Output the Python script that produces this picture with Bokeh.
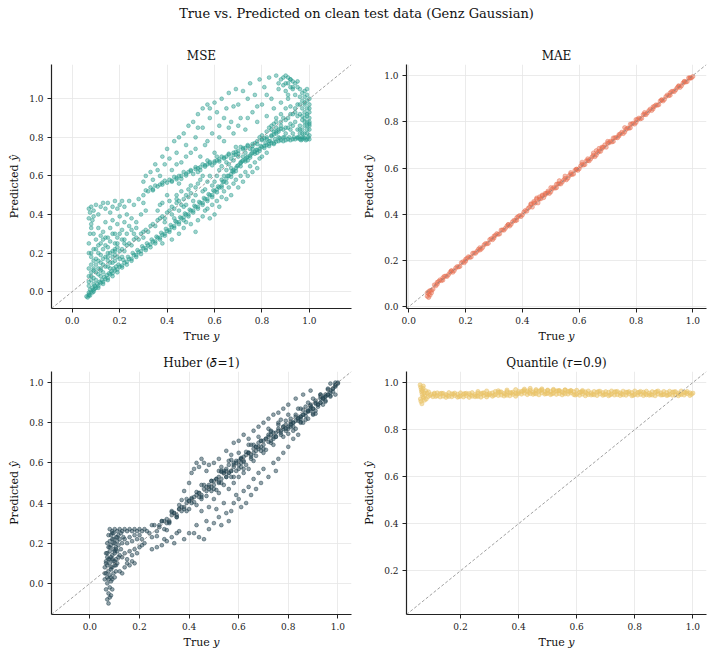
from bokeh.plotting import figure
from bokeh.layouts import column, row
from bokeh.models import Slope, FixedTicker, PrintfTickFormatter, Range1d, Label
from bokeh.embed import file_html
from bokeh.resources import INLINE

SERIF = "DejaVu Serif"
SUPTITLE = "True vs. Predicted on clean test data (Genz Gaussian)"
TITLES = ["MSE", "MAE", "Huber (\U0001D6FF=1)", "Quantile (\U0001D70F=0.9)"]
XLABEL = "True \U0001D466"
YLABEL = "Predicted \U0001D466\u0302"
COLORS = ["#2a9d8f", "#e76f51", "#264653", "#e9c46a"]
TICKS = [-0.2, 0.0, 0.2, 0.4, 0.6, 0.8, 1.0, 1.2]

# ---------------- MSE ----------------
mse_lo_x = [0.060,0.065,0.070,0.070,0.075,0.080,0.085,0.090,0.095,0.100,
            0.11,0.12,0.13,0.14,0.15,0.16,0.17,0.18,0.19,0.20,
            0.21,0.22,0.23,0.24,0.25,0.26,0.27,0.28,0.29,0.30,
            0.31,0.32,0.33,0.34,0.35,0.36,0.37,0.38,0.39,0.40,
            0.41,0.42,0.43,0.44,0.45,0.46,0.47,0.48,0.49,0.50,
            0.51,0.52,0.53,0.54,0.55,0.56,0.57,0.58,0.59,0.60,
            0.61,0.62,0.63,0.64,0.65,0.66,0.67,0.68,0.69,0.70,
            0.71,0.72,0.73,0.74,0.75,0.76,0.77,0.78,0.79,0.80,
            0.81,0.82,0.83,0.84,0.85,0.86,0.87,0.88,0.89,0.90,
            0.91,0.92,0.93,0.94,0.95,0.96,0.97,0.98,0.99,1.00,
            0.075,0.085,0.095,0.105,0.115,0.125,0.135,0.145,0.155,0.165,
            0.175,0.185,0.195,0.215,0.235,0.255,0.275,0.295,0.315,0.335,
            0.355,0.375,0.395,0.415,0.435,0.455,0.475,0.495,0.515,0.535,
            0.555,0.575,0.595,0.615,0.635,0.655,0.675,0.695,0.715,0.735,
            0.755,0.775,0.795,0.815,0.835,0.855,0.875,0.895,0.915,0.935,
            0.955,0.975,0.995,0.965,0.985,
            0.07,0.09,0.11,0.13,0.15,0.17,0.19,0.21,0.23,0.25,
            0.27,0.29,0.31,0.33,0.35,0.37,0.39,0.41,0.43,0.45,
            0.47,0.49,0.51,0.53,0.55,0.57,0.59,0.61,0.63,0.65,
            0.67,0.69,0.71,0.73,0.75,0.77,0.79,0.81,0.83,0.85]
mse_lo_y = [-0.025,-0.030,-0.015,-0.005,-0.020,0.000,-0.005,0.010,0.015,0.020,
            0.030,0.045,0.050,0.065,0.070,0.090,0.095,0.110,0.115,0.130,
            0.135,0.150,0.155,0.170,0.170,0.190,0.190,0.205,0.210,0.225,
            0.225,0.240,0.245,0.260,0.260,0.280,0.280,0.295,0.300,0.315,
            0.320,0.335,0.340,0.360,0.360,0.380,0.385,0.400,0.400,0.420,
            0.420,0.440,0.440,0.460,0.460,0.480,0.480,0.500,0.500,0.520,
            0.530,0.540,0.550,0.570,0.585,0.600,0.610,0.630,0.640,0.655,
            0.665,0.680,0.685,0.700,0.705,0.720,0.725,0.735,0.740,0.750,
            0.755,0.760,0.765,0.770,0.770,0.778,0.780,0.785,0.780,0.785,
            0.790,0.785,0.790,0.790,0.795,0.790,0.790,0.795,0.790,0.790,
            0.010,0.020,0.030,0.040,0.050,0.060,0.075,0.085,0.095,0.105,
            0.120,0.130,0.140,0.165,0.180,0.200,0.215,0.235,0.250,0.270,
            0.285,0.305,0.325,0.345,0.365,0.385,0.405,0.425,0.445,0.465,
            0.485,0.505,0.525,0.545,0.570,0.600,0.625,0.650,0.675,0.695,
            0.715,0.735,0.755,0.770,0.780,0.790,0.795,0.800,0.800,0.800,
            0.800,0.800,0.800,0.785,0.785,
            -0.020,0.000,0.020,0.040,0.060,0.080,0.100,0.125,0.140,0.160,
            0.180,0.195,0.215,0.230,0.250,0.270,0.290,0.310,0.330,0.350,
            0.370,0.390,0.410,0.430,0.450,0.470,0.490,0.515,0.540,0.565,
            0.595,0.625,0.650,0.675,0.695,0.715,0.730,0.745,0.755,0.765]
mse_mid_x = [0.07,0.08,0.09,0.10,0.11,0.12,0.13,0.14,0.15,0.16,
             0.17,0.18,0.19,0.20,0.21,0.22,0.23,0.24,0.25,0.26,
             0.27,0.28,0.29,0.30,0.31,0.32,0.33,0.34,0.35,0.36,
             0.37,0.38,0.39,0.40,0.41,0.42,0.43,0.44,0.45,0.46,
             0.47,0.48,0.49,0.50,0.12,0.15,0.18,0.22,0.26,0.30,
             0.30,0.32,0.34,0.36,0.38,0.40,0.42,0.44,0.46,0.48,
             0.50,0.52,0.54,0.56,0.58,0.60,0.62,0.64,0.66,0.68,
             0.70,0.72,0.74,0.76,0.78,0.80,0.82,0.84,0.86,0.31,
             0.35,0.39,0.43,0.47,0.51,0.55,0.59,0.63,0.67,0.71,
             0.75,0.79,0.83,0.87,0.90,0.92,0.45,0.53,0.57,0.61,
             0.65,0.69,0.73,
             0.33,0.37,0.41,0.45,0.49,0.53,0.57,0.61,0.65,0.69,
             0.73,0.77,0.81,0.85,0.34,0.38,0.42,0.46,0.50,0.54,
             0.58,0.62,0.66,0.70,0.74,0.78,0.82,0.86,0.44,0.48,
             0.52,0.56,0.60,0.64,0.68,0.72,0.76,0.80,0.84,0.88]
mse_mid_y = [0.05,0.08,0.07,0.10,0.09,0.12,0.14,0.13,0.16,0.15,
             0.18,0.19,0.18,0.21,0.22,0.21,0.24,0.25,0.24,0.27,
             0.28,0.27,0.30,0.31,0.32,0.31,0.34,0.35,0.34,0.37,
             0.38,0.39,0.38,0.41,0.42,0.44,0.43,0.46,0.47,0.45,
             0.48,0.50,0.49,0.51,0.15,0.13,0.22,0.25,0.30,0.28,
             0.500,0.520,0.530,0.545,0.555,0.565,0.575,0.590,0.600,0.610,
             0.625,0.635,0.645,0.655,0.665,0.675,0.685,0.695,0.710,0.720,
             0.730,0.745,0.755,0.765,0.780,0.790,0.800,0.810,0.820,0.525,
             0.550,0.575,0.595,0.620,0.610,0.660,0.655,0.700,0.690,0.750,
             0.740,0.800,0.780,0.840,0.850,0.870,0.560,0.620,0.680,0.700,
             0.670,0.750,0.720,
             0.540,0.555,0.580,0.600,0.620,0.640,0.660,0.680,0.700,0.725,
             0.745,0.770,0.795,0.815,0.525,0.565,0.570,0.585,0.630,0.630,
             0.672,0.675,0.715,0.715,0.760,0.765,0.790,0.830,0.582,0.602,
             0.645,0.648,0.668,0.690,0.708,0.738,0.755,0.785,0.805,0.845]
mse_cloud_x = [0.08,0.09,0.10,0.11,0.12,0.13,0.14,0.15,0.16,0.17,
               0.18,0.19,0.20,0.21,0.22,0.23,0.24,0.26,0.28,0.30,
               0.08,0.09,0.10,0.11,0.12,0.13,0.14,0.15,0.16,0.17,
               0.18,0.19,0.20,0.21,0.22,0.24,0.25,0.27,0.29,0.31,
               0.08,0.09,0.10,0.11,0.12,0.13,0.14,0.15,0.16,0.17,
               0.18,0.19,0.21,0.23,0.25,0.27,0.07,0.08,0.09,0.10,
               0.11,0.07,0.08,0.09,0.12,0.13,0.07,0.075,0.07,0.075,
               0.07,0.08,0.085,0.09,
               0.07,0.08,0.09,0.10,0.11,0.12,0.13,0.14,0.15,0.16,
               0.17,0.18,0.19,0.20,0.08,0.09,0.10,0.11,0.12,0.13,
               0.14,0.15,0.16,0.17,0.18,0.19,0.20,0.21,0.22,0.07,
               0.30,0.31,0.33,0.34,0.35,0.36,0.37,0.38,0.39,0.40,
               0.41,0.42,0.43,0.44,0.45,0.46,0.47,0.48,0.49,0.50,
               0.51,0.52,0.53,0.54,0.55,0.55,0.56,0.57,0.58,0.59,
               0.60,0.60,0.61,0.62,0.63,0.64,0.65,0.66,0.67,0.68,
               0.69,0.70,0.71,0.72,0.73,0.74,0.75,0.76,0.77,0.78,
               0.79,0.80,0.81,0.82,0.83,0.84,0.85,0.86,0.87,0.88,
               0.89,0.90,0.91,0.92,0.93,0.44,0.48,0.52,0.57,0.62,
               0.66,0.70,0.74,0.78,0.82,0.86,0.53,0.58,0.64,0.68]
mse_cloud_y = [0.44,0.42,0.45,0.40,0.44,0.46,0.43,0.46,0.41,0.44,
               0.47,0.43,0.45,0.47,0.44,0.40,0.47,0.45,0.48,0.46,
               0.35,0.30,0.27,0.33,0.25,0.31,0.36,0.28,0.33,0.37,
               0.30,0.35,0.39,0.32,0.36,0.34,0.38,0.36,0.40,0.42,
               0.20,0.22,0.17,0.24,0.19,0.22,0.18,0.23,0.26,0.21,
               0.25,0.28,0.27,0.30,0.32,0.33,0.12,0.14,0.11,0.14,
               0.16,0.08,0.06,0.04,0.08,0.10,0.43,0.41,0.38,0.30,
               0.25,0.33,0.37,0.39,
               0.03,0.10,0.12,0.06,0.20,0.11,0.17,0.24,0.20,0.12,
               0.15,0.16,0.23,0.17,0.18,0.16,0.22,0.12,0.29,0.27,
               0.28,0.18,0.20,0.30,0.21,0.25,0.30,0.18,0.27,0.20,
               0.57,0.60,0.62,0.58,0.66,0.63,0.60,0.70,0.66,0.74,
               0.69,0.63,0.78,0.72,0.80,0.67,0.82,0.76,0.86,0.72,
               0.88,0.80,0.92,0.70,0.95,0.85,0.76,0.97,0.90,0.82,
               0.98,0.72,0.93,0.86,1.00,0.78,0.95,1.03,0.88,0.82,
               1.05,0.97,0.90,1.04,0.84,1.00,1.08,0.93,1.02,0.88,
               1.10,0.97,1.06,0.91,1.11,1.00,0.95,1.12,1.05,0.98,
               1.11,1.08,1.02,1.10,1.06,0.66,0.70,0.74,0.78,0.80,
               0.85,0.86,0.90,0.96,1.02,0.90,0.85,0.95,0.90,0.96]
mse_below_x = [0.38,0.42,0.45,0.47,0.50,0.52,0.53,0.55,0.56,0.58,
               0.59,0.60,0.61,0.62,0.63,0.64,0.65,0.66,0.67,0.68,
               0.69,0.70,0.71,0.72,0.73,0.74,0.75,0.76,0.77,0.78,
               0.79,0.80,0.82,0.48,0.57,
               0.36,0.38,0.40,0.42,0.44,0.46,0.48,0.50,0.52,0.54,
               0.56,0.58,0.60,0.62,0.64,0.66,0.68,0.70,0.39,0.43,
               0.47,0.51,0.55,0.59,0.63,0.67,0.72,0.76,0.45,0.53,
               0.41,0.44,0.49,0.52,0.57,0.61,0.65,0.68,0.71,0.74,
               0.78,0.37,0.55,0.63,0.69]
mse_below_y = [0.25,0.27,0.30,0.33,0.35,0.31,0.37,0.39,0.42,0.38,
               0.45,0.40,0.47,0.44,0.49,0.52,0.48,0.54,0.50,0.56,
               0.58,0.54,0.60,0.57,0.62,0.60,0.65,0.62,0.67,0.64,
               0.69,0.70,0.72,0.36,0.43,
               0.42,0.46,0.50,0.40,0.48,0.52,0.45,0.55,0.50,0.58,
               0.53,0.60,0.57,0.63,0.60,0.66,0.68,0.70,0.36,0.38,
               0.44,0.47,0.52,0.55,0.58,0.64,0.70,0.74,0.42,0.56,
               0.47,0.50,0.53,0.54,0.57,0.60,0.63,0.62,0.67,0.68,
               0.72,0.45,0.60,0.65,0.71]
mse_right_x = [0.95,0.96,0.97,0.98,0.99,1.00,1.00,0.99,1.00,0.99,
               1.00,0.98,0.97,0.96,0.95,0.94,0.93,0.92,0.91,0.90,
               0.99,1.00,0.99,1.00,0.98,0.99,1.00,0.98,0.97,0.99,
               0.98,0.96,0.97,0.96,0.95,0.94,0.93,0.95,0.92,0.91,
               0.94,0.93,0.92,0.91,0.90,0.89,0.88,0.90,0.89,0.88,
               0.96,0.97,0.95,0.94,0.98,1.00,0.98,0.97,0.99,0.87,
               0.84,0.86,0.88,0.85,0.87,0.90,0.92,0.91,0.93,0.89,
               0.80,0.82,0.84,0.86,0.88,0.90,0.92,0.94,0.96,0.98,
               0.99,1.00,0.97,0.95,0.93,0.91,0.89,0.87,0.85,0.83,
               1.00,0.99,0.98,0.97,0.96]
mse_right_y = [0.80,0.82,0.84,0.86,0.88,0.90,0.93,0.95,0.97,0.99,
               1.00,1.01,1.03,1.05,1.06,1.08,1.09,1.10,1.11,1.12,
               0.82,0.84,0.86,0.87,0.90,0.92,0.95,0.97,0.99,1.02,
               1.04,1.01,0.95,0.92,0.97,1.02,1.05,1.09,1.06,1.08,
               0.88,0.92,0.96,1.00,1.04,1.07,1.10,0.95,0.90,0.86,
               0.86,0.89,0.91,0.95,0.93,0.81,0.82,0.80,1.05,1.08,
               0.86,0.88,0.92,0.83,0.80,0.82,0.84,0.90,0.82,0.84,
               0.81,0.83,0.84,0.85,0.88,0.89,0.92,0.93,0.97,0.98,
               0.84,0.86,0.82,0.84,0.86,0.85,0.80,0.83,0.87,0.85,
               0.88,0.91,0.88,0.91,0.84]

# ---------------- MAE ----------------
mae_true = [0.065,0.070,0.065,0.070,0.075,0.070,0.080,0.075,0.085,0.080,
            0.09,0.10,0.11,0.12,0.13,0.14,0.15,0.16,0.17,0.18,
            0.19,0.20,0.21,0.22,0.23,0.24,0.25,0.26,0.27,0.28,
            0.29,0.30,0.31,0.32,0.33,0.34,0.35,0.36,0.37,0.38,
            0.39,0.40,0.41,0.42,0.43,0.44,0.45,0.46,0.47,0.48,
            0.49,0.50,0.51,0.52,0.53,0.54,0.55,0.56,0.57,0.58,
            0.59,0.60,0.61,0.62,0.63,0.64,0.65,0.66,0.67,0.68,
            0.69,0.70,0.71,0.72,0.73,0.74,0.75,0.76,0.77,0.78,
            0.79,0.80,0.81,0.82,0.83,0.84,0.85,0.86,0.87,0.88,
            0.89,0.90,0.91,0.92,0.93,0.94,0.95,0.96,0.97,0.98,
            0.99,1.00,
            0.43,0.44,0.45,0.46,0.47,0.48,0.49,0.50,0.52,0.53,
            0.55,0.57,0.59,0.61,0.63,0.65,0.66,0.67,0.68,0.70,
            0.72,0.74,0.76,0.78,0.80,0.83,0.86,0.89,0.92,0.95,
            0.97,0.99,0.30,0.25,0.20,0.15,0.12,0.10,0.35,0.38,
            0.095,0.105,0.115,0.125,0.135,0.145,0.155,0.165,0.175,0.185,
            0.195,0.205,0.215,0.225,0.235,0.245,0.255,0.265,0.275,0.285,
            0.295,0.305,0.315,0.325,0.335,0.345,0.355,0.365,0.375,0.385,
            0.395,0.405,0.415,0.425,0.435,0.445,0.455,0.465,0.475,0.485,
            0.495,0.505,0.515,0.525,0.535,0.545,0.555,0.565,0.575,0.585,
            0.595,0.605,0.615,0.625,0.635,0.645,0.655,0.665,0.675,0.685,
            0.695,0.705,0.715,0.725,0.735,0.745,0.755,0.765,0.775,0.785,
            0.795,0.805,0.815,0.825,0.835,0.845,0.855,0.865,0.875,0.885,
            0.895,0.905,0.915,0.925,0.935,0.945,0.955,0.965,0.975,0.985,
            0.995]
mae_pred = [0.045,0.040,0.060,0.065,0.050,0.055,0.070,0.070,0.075,0.060,
            0.094,0.097,0.116,0.115,0.132,0.139,0.155,0.156,0.173,0.174,
            0.194,0.197,0.216,0.215,0.232,0.239,0.255,0.256,0.273,0.274,
            0.294,0.297,0.316,0.315,0.332,0.339,0.355,0.356,0.373,0.374,
            0.394,0.397,0.416,0.425,0.442,0.449,0.465,0.466,0.483,0.484,
            0.494,0.497,0.516,0.515,0.532,0.539,0.555,0.556,0.573,0.574,
            0.594,0.597,0.616,0.615,0.632,0.639,0.655,0.656,0.673,0.684,
            0.700,0.707,0.716,0.715,0.732,0.739,0.755,0.756,0.773,0.774,
            0.794,0.797,0.816,0.815,0.832,0.839,0.855,0.856,0.873,0.874,
            0.894,0.897,0.916,0.915,0.932,0.939,0.955,0.956,0.973,0.974,
            0.989,0.996,
            0.445,0.455,0.470,0.475,0.480,0.490,0.500,0.515,0.530,0.545,
            0.565,0.580,0.595,0.625,0.640,0.665,0.675,0.685,0.690,0.715,
            0.730,0.745,0.775,0.790,0.810,0.840,0.865,0.895,0.925,0.955,
            0.975,0.990,0.305,0.245,0.205,0.155,0.125,0.105,0.355,0.385,
            0.090,0.109,0.113,0.131,0.131,0.148,0.149,0.167,0.172,0.190,
            0.190,0.209,0.213,0.231,0.231,0.248,0.249,0.267,0.272,0.290,
            0.290,0.309,0.313,0.331,0.331,0.348,0.349,0.367,0.372,0.390,
            0.390,0.409,0.413,0.431,0.431,0.448,0.449,0.467,0.472,0.490,
            0.490,0.509,0.513,0.531,0.531,0.548,0.549,0.567,0.572,0.590,
            0.590,0.609,0.613,0.631,0.631,0.648,0.649,0.667,0.672,0.690,
            0.690,0.709,0.713,0.731,0.731,0.748,0.749,0.767,0.772,0.790,
            0.790,0.809,0.813,0.831,0.831,0.848,0.849,0.867,0.872,0.890,
            0.890,0.909,0.913,0.931,0.931,0.948,0.949,0.967,0.972,0.990,
            0.990]

# ---------------- Huber ----------------
hub_left_x = [0.075,0.070,0.080,0.075,0.085,0.065,0.080,0.090,0.070,0.085,
              0.060,0.070,0.080,0.090,0.100,0.065,0.075,0.085,0.095,0.105,
              0.060,0.070,0.080,0.090,0.100,0.110,0.065,0.075,0.085,0.095,
              0.105,0.115,0.070,0.080,0.090,0.100,0.110,0.120,0.075,0.085,
              0.095,0.105,0.115,0.125,0.080,0.090,0.100,0.110,0.120,0.130,
              0.085,0.095,0.105,0.115,0.125,0.135,0.080,0.090,0.100,0.110,
              0.12,0.13,0.14,0.15,0.16,0.17,0.18,0.19,0.20,0.21,
              0.22,0.23,0.14,0.15,0.16,0.17,0.18,0.19,0.20,0.21,
              0.13,0.14,0.15,0.16,0.17,0.18,0.19,0.20,0.21,0.22,
              0.14,0.15,0.16,0.17,0.18,0.12,0.13,
              0.060,0.065,0.070,0.075,0.080,0.085,0.090,0.095,0.100,0.105,
              0.065,0.075,0.085,0.095,0.105,0.070,0.080,0.090,0.100,0.110]
hub_left_y = [-0.10,-0.08,-0.07,-0.05,-0.06,-0.03,-0.02,-0.03,0.00,0.01,
              0.02,0.03,0.04,0.02,0.03,0.05,0.06,0.07,0.05,0.06,
              0.08,0.09,0.10,0.08,0.09,0.10,0.11,0.12,0.13,0.11,
              0.12,0.13,0.15,0.16,0.14,0.15,0.16,0.14,0.18,0.19,
              0.17,0.18,0.19,0.17,0.21,0.22,0.20,0.21,0.22,0.20,
              0.24,0.25,0.23,0.24,0.25,0.23,0.27,0.26,0.27,0.26,
              0.27,0.26,0.27,0.26,0.27,0.26,0.27,0.26,0.27,0.26,
              0.27,0.26,0.22,0.20,0.23,0.21,0.24,0.22,0.24,0.22,
              0.13,0.15,0.12,0.16,0.14,0.17,0.15,0.18,0.19,0.20,
              0.08,0.10,0.09,0.11,0.10,0.06,0.05,
              0.05,0.10,0.13,0.02,0.18,0.08,0.12,0.20,0.16,0.09,
              0.15,0.24,0.03,0.22,0.17,0.20,0.12,0.25,0.11,0.23]
hub_band_x = [0.24,0.25,0.26,0.27,0.28,0.29,0.30,0.31,0.32,0.33,
              0.34,0.35,0.36,0.37,0.38,0.39,0.40,0.41,0.42,0.43,
              0.44,0.45,0.46,0.47,0.48,0.49,0.50,0.51,0.52,0.53,
              0.54,0.55,0.56,0.57,0.58,0.59,0.60,0.61,0.62,0.63,
              0.64,0.65,0.66,0.67,0.68,0.69,0.70,0.71,0.72,0.73,
              0.74,0.75,0.76,0.77,0.78,0.79,
              0.80,0.81,0.82,0.83,0.84,0.85,0.86,0.87,0.88,0.89,
              0.90,0.91,0.92,0.93,0.94,0.95,0.96,0.97,0.98,0.99,
              1.00,
              0.25,0.27,0.29,0.31,0.33,0.35,0.37,0.39,0.41,0.43,
              0.45,0.47,0.49,0.51,0.53,0.55,0.57,0.59,0.61,0.63,
              0.65,0.67,0.69,0.71,0.73,0.75,0.77,0.79,0.81,0.83,
              0.85,0.87,0.89,0.91,0.93,0.95,0.97,0.99,
              0.80,0.82,0.84,0.86,0.88,0.90,0.92,0.94,0.96,0.98,
              0.81,0.83,0.85,0.87,0.89,0.91,0.93,0.95,0.97,0.99,
              0.85,0.88,0.91,0.94,0.97,1.00,0.99,0.96,0.93,0.90,
              0.50,0.52,0.54,0.56,0.58,0.60,0.62,0.64,0.66,0.68,
              0.70,0.72,0.74,0.76,0.78,0.55,0.61,0.67,0.73,0.79,
              0.30,0.32,0.34,0.36,0.38,0.40,0.42,0.44,0.46,0.48,
              0.50,0.52,0.54,0.56,0.58,0.60,0.62,0.64,0.66,0.68,
              0.70,0.72,0.74,0.76,0.78,0.80,0.82,0.84,0.86,0.88,
              0.90,0.92,0.94,0.96,0.98,0.31,0.33,0.35,0.37,0.39,
              0.41,0.43,0.45,0.47,0.49,0.51,0.53,0.55,0.57,0.59,
              0.61,0.63,0.65,0.67,0.69,0.71,0.73,0.75,0.77,0.79,
              0.81,0.83,0.85,0.87,0.89,0.91,0.93,0.95,0.97,0.99,
              0.52,0.56,0.60,0.64,0.68,0.72,0.76,0.80,0.84,0.88,
              0.54,0.58,0.62,0.66,0.70,0.74,0.78,0.82,0.86,0.90,
              0.45,0.49,0.53,0.57,0.61,0.65,0.69,0.73,0.77,0.81,
              0.85,0.89,0.93,0.40,0.36,0.32,0.28,0.44,0.48,0.95]
hub_band_y = [0.25,0.23,0.29,0.26,0.28,0.31,0.27,0.32,0.305,0.355,
              0.35,0.33,0.39,0.36,0.38,0.42,0.37,0.42,0.405,0.455,
              0.45,0.43,0.49,0.46,0.48,0.51,0.47,0.52,0.505,0.555,
              0.55,0.53,0.59,0.56,0.58,0.61,0.57,0.62,0.605,0.655,
              0.65,0.63,0.69,0.66,0.68,0.71,0.67,0.72,0.705,0.755,
              0.75,0.73,0.79,0.76,0.78,0.81,
              0.745,0.795,0.78,0.83,0.825,0.805,0.865,0.835,0.855,0.885,
              0.845,0.895,0.88,0.93,0.925,0.905,0.965,0.935,0.955,0.985,
              0.995,
              0.29,0.235,0.31,0.265,0.36,0.33,0.415,0.36,0.425,0.39,
              0.49,0.435,0.51,0.465,0.56,0.53,0.615,0.56,0.625,0.59,
              0.69,0.635,0.71,0.665,0.76,0.73,0.815,0.76,0.805,0.77,
              0.87,0.815,0.89,0.845,0.94,0.91,0.995,0.94,
              0.77,0.80,0.81,0.84,0.86,0.87,0.89,0.92,0.94,0.97,
              0.82,0.84,0.83,0.88,0.87,0.91,0.90,0.94,0.95,0.98,
              0.80,0.82,0.86,0.89,0.93,1.00,1.00,0.97,0.94,0.92,
              0.51,0.50,0.56,0.55,0.60,0.59,0.63,0.65,0.65,0.70,
              0.69,0.74,0.72,0.77,0.77,0.57,0.62,0.68,0.74,0.79,
              0.31,0.30,0.35,0.37,0.37,0.41,0.43,0.43,0.47,0.49,
              0.49,0.53,0.55,0.55,0.59,0.61,0.61,0.65,0.67,0.67,
              0.71,0.73,0.73,0.76,0.78,0.78,0.80,0.82,0.84,0.86,
              0.87,0.89,0.92,0.94,0.97,0.30,0.34,0.34,0.38,0.40,
              0.40,0.44,0.44,0.48,0.48,0.52,0.52,0.56,0.56,0.60,
              0.60,0.64,0.64,0.68,0.68,0.72,0.71,0.75,0.75,0.77,
              0.79,0.81,0.83,0.85,0.88,0.90,0.92,0.93,0.96,0.99,
              0.56,0.61,0.65,0.69,0.73,0.77,0.80,0.84,0.87,0.90,
              0.49,0.53,0.57,0.61,0.65,0.69,0.73,0.76,0.80,0.84,
              0.42,0.46,0.50,0.53,0.58,0.62,0.66,0.70,0.74,0.78,
              0.82,0.86,0.90,0.41,0.37,0.31,0.29,0.45,0.47,0.93]
hub_off_x = [0.25,0.27,0.29,0.31,0.33,0.35,0.36,0.30,0.34,0.38,
             0.40,0.42,0.44,0.46,0.48,0.50,0.52,0.53,0.55,0.56,
             0.58,0.59,0.60,0.62,0.63,0.64,0.65,0.66,0.67,0.68,
             0.69,0.70,0.72,0.74,0.75,0.76,0.78,0.80,0.82,0.84,
             0.45,0.48,0.50,0.52,0.54,0.56,0.58,0.60,0.62,0.64,
             0.43,0.47,0.51,0.57,0.61,
             0.38,0.40,0.41,0.42,0.43,0.44,0.45,0.46,0.47,0.48,
             0.50,0.52,0.53,0.55,0.57,0.58,0.60,0.62,0.64,0.66,
             0.68,0.70,0.72,0.74,0.76,0.78,0.80,0.83,0.86,0.89]
hub_off_y = [0.17,0.18,0.19,0.21,0.23,0.25,0.26,0.22,0.20,0.22,
             0.25,0.25,0.23,0.22,0.27,0.30,0.33,0.29,0.35,0.31,
             0.40,0.44,0.42,0.46,0.40,0.48,0.44,0.52,0.47,0.55,
             0.50,0.57,0.53,0.60,0.56,0.62,0.65,0.68,0.72,0.74,
             0.36,0.38,0.42,0.45,0.40,0.47,0.50,0.53,0.55,0.57,
             0.29,0.31,0.37,0.36,0.38,
             0.46,0.50,0.55,0.57,0.60,0.58,0.62,0.60,0.56,0.59,
             0.60,0.62,0.58,0.66,0.64,0.70,0.71,0.74,0.72,0.76,
             0.78,0.80,0.82,0.84,0.85,0.87,0.89,0.92,0.94,0.96]

# ---------------- Quantile ----------------
qt_true = [0.061,0.063,0.065,0.066,0.068,0.070,0.062,0.064,0.067,0.069,
           0.071,0.073,0.075,0.078,0.080,0.082,0.085,0.088,0.090,0.095,
           0.100,0.105,0.110,0.072,0.076,
           0.11,0.12,0.13,0.14,0.15,0.16,0.17,0.18,0.19,0.20,
           0.21,0.22,0.23,0.24,0.25,0.26,0.27,0.28,0.29,0.30,
           0.31,0.32,0.33,0.34,0.35,0.36,0.37,0.38,0.39,0.40,
           0.41,0.42,0.43,0.44,0.45,0.46,0.47,0.48,0.49,0.50,
           0.51,0.52,0.53,0.54,0.55,0.56,0.57,0.58,0.59,0.60,
           0.61,0.62,0.63,0.64,0.65,0.66,0.67,0.68,0.69,0.70,
           0.71,0.72,0.73,0.74,0.75,0.76,0.77,0.78,0.79,0.80,
           0.81,0.82,0.83,0.84,0.85,0.86,0.87,0.88,0.89,0.90,
           0.91,0.92,0.93,0.94,0.95,0.96,0.97,0.98,0.99,1.00,
           0.115,0.135,0.155,0.175,0.195,0.215,0.235,0.255,0.275,0.295,
           0.315,0.335,0.355,0.375,0.395,0.415,0.435,0.455,0.475,0.495,
           0.515,0.535,0.555,0.575,0.595,0.615,0.635,0.655,0.675,0.695,
           0.715,0.735,0.755,0.775,0.795,0.815,0.835,0.855,0.875,0.895,
           0.915,0.935,0.955,0.975,0.995,
           0.33,0.36,0.39,0.42,0.44,0.46,0.48,0.50,0.52,0.54,
           0.56,0.58,0.26,0.29,0.62,
           0.12,0.13,0.14,0.15,0.16,0.17,0.18,0.19,0.20,0.21,
           0.22,0.23,0.24,0.25,0.26,0.27,0.28,0.29,0.30,
           0.31,0.32,0.33,0.34,0.35,0.36,0.37,0.38,0.39,0.40,
           0.41,0.42,0.43,0.44,0.45,0.46,0.47,0.48,0.49,0.50,
           0.51,0.52,0.53,0.54,0.55,0.56,0.57,0.58,0.59,0.60,
           0.61,0.62,0.63,0.64,0.65,0.66,0.67,0.68,
           0.69,0.70,0.71,0.72,0.73,0.74,0.75,0.76,
           0.77,0.78,0.79,0.80,0.81,0.82,0.83,0.84,
           0.85,0.86,0.87,0.88,0.89,0.90,0.91,0.92,
           0.93,0.94,0.95,0.96,0.97,0.98,0.99]
qt_pred = [0.99,0.98,0.97,0.96,0.95,0.94,0.93,0.92,0.91,0.965,
           0.975,0.935,0.955,0.945,0.965,0.93,0.955,0.94,0.96,0.945,
           0.95,0.94,0.955,0.985,0.925,
           0.951,0.944,0.953,0.942,0.949,0.941,0.952,0.945,0.950,0.943,
           0.951,0.944,0.953,0.942,0.949,0.941,0.952,0.945,0.950,0.948,
           0.956,0.949,0.958,0.947,0.954,0.946,0.957,0.950,0.955,0.954,
           0.962,0.955,0.964,0.953,0.960,0.952,0.963,0.956,0.961,0.954,
           0.962,0.955,0.964,0.953,0.960,0.952,0.963,0.956,0.961,0.950,
           0.958,0.951,0.960,0.949,0.956,0.948,0.959,0.952,0.957,0.950,
           0.958,0.951,0.960,0.949,0.956,0.948,0.959,0.952,0.957,0.949,
           0.957,0.950,0.959,0.948,0.955,0.947,0.958,0.951,0.956,0.949,
           0.957,0.950,0.959,0.948,0.955,0.949,0.958,0.953,0.956,0.955,
           0.941,0.954,0.945,0.951,0.940,0.953,0.947,0.943,0.955,0.947,
           0.946,0.959,0.950,0.956,0.951,0.964,0.958,0.954,0.966,0.953,
           0.952,0.965,0.956,0.962,0.947,0.960,0.954,0.950,0.962,0.949,
           0.948,0.961,0.952,0.958,0.946,0.959,0.953,0.949,0.961,0.948,
           0.947,0.960,0.951,0.957,0.950,
           0.965,0.968,0.970,0.972,0.975,0.970,0.973,0.968,0.971,0.966,
           0.969,0.965,0.962,0.964,0.966,
           0.956,0.939,0.954,0.937,0.957,0.940,0.955,0.938,0.956,0.939,
           0.954,0.937,0.957,0.940,0.955,0.938,0.956,0.939,0.954,
           0.942,0.962,0.945,0.960,0.943,0.961,0.944,0.959,0.942,0.962,
           0.951,0.966,0.949,0.967,0.950,0.965,0.948,0.968,0.951,0.966,
           0.949,0.967,0.950,0.965,0.948,0.968,0.951,0.966,0.949,0.967,
           0.946,0.961,0.944,0.964,0.947,0.962,0.945,0.963,
           0.946,0.961,0.944,0.964,0.947,0.962,0.945,0.963,
           0.946,0.961,0.944,0.964,0.947,0.962,0.945,0.963,
           0.946,0.961,0.944,0.964,0.947,0.962,0.945,0.963,
           0.946,0.961,0.944,0.964,0.947,0.962,0.945]

mse_true = mse_lo_x + mse_mid_x + mse_cloud_x + mse_below_x + mse_right_x
mse_pred = mse_lo_y + mse_mid_y + mse_cloud_y + mse_below_y + mse_right_y
hub_true = hub_left_x + hub_band_x + hub_off_x
hub_pred = hub_left_y + hub_band_y + hub_off_y


def panel(title, xs, ys, color, alpha, size, w, h, bl, br, bt, bb):
    lo = min(min(xs), min(ys))
    hi = max(max(xs), max(ys))
    pad = 0.05 * (hi - lo)
    p = figure(width=w, height=h, output_backend="svg", toolbar_location=None,
               x_range=Range1d(lo - pad, hi + pad), y_range=Range1d(lo - pad, hi + pad),
               min_border_left=bl, min_border_right=br, min_border_top=bt,
               min_border_bottom=bb, title=title, background_fill_color="white",
               border_fill_color="white")
    p.outline_line_color = None
    p.title.align = "center"
    p.title.text_font = SERIF
    p.title.text_font_size = "12px"
    p.title.text_font_style = "normal"
    p.title.text_color = "#111111"
    p.title.standoff = 4
    p.scatter(xs, ys, size=size, fill_color=color, line_color=color,
              fill_alpha=alpha, line_alpha=min(1.0, alpha + 0.3), line_width=0.6)
    p.add_layout(Slope(gradient=1, y_intercept=0, line_color="#888888",
                       line_dash="3 2", line_width=0.8))
    for ax in (p.xaxis[0], p.yaxis[0]):
        ax.ticker = FixedTicker(ticks=TICKS)
        ax.formatter = PrintfTickFormatter(format="%.1f")
        ax.axis_line_color = "#222222"
        ax.axis_line_width = 1.2
        ax.major_tick_line_color = "#222222"
        ax.major_tick_line_width = 1
        ax.major_tick_out = 4
        ax.major_tick_in = 0
        ax.minor_tick_line_color = None
        ax.major_label_text_font = SERIF
        ax.major_label_text_font_size = "9px"
        ax.major_label_text_color = "#222222"
        ax.major_label_standoff = 4
        ax.axis_label_text_font = SERIF
        ax.axis_label_text_font_size = "11px"
        ax.axis_label_text_font_style = "normal"
        ax.axis_label_text_color = "#111111"
    p.xaxis[0].axis_label_standoff = 3
    p.yaxis[0].axis_label_standoff = 5
    p.xaxis.axis_label = XLABEL
    p.yaxis.axis_label = YLABEL
    for g in (p.xgrid[0], p.ygrid[0]):
        g.ticker = FixedTicker(ticks=TICKS)
        g.grid_line_color = "#e6e6e6"
        g.grid_line_width = 0.8
    return p


p1 = panel(TITLES[0], mse_true, mse_pred, COLORS[0], 0.45, 3.8, 355, 318, 51, 4, 34, 40)
p2 = panel(TITLES[1], mae_true, mae_pred, COLORS[1], 0.45, 4.2, 357, 318, 51, 6, 34, 40)
p3 = panel(TITLES[2], hub_true, hub_pred, COLORS[2], 0.5, 3.8, 355, 306, 51, 4, 23, 40)
p4 = panel(TITLES[3], qt_true, qt_pred, COLORS[3], 0.55, 4.2, 357, 306, 51, 6, 23, 40)

tf = figure(width=712, height=30, output_backend="svg", toolbar_location=None,
            x_range=Range1d(0, 1), y_range=Range1d(0, 1), min_border=0)
tf.axis.visible = False
tf.grid.visible = False
tf.outline_line_color = None
tf.add_layout(Label(x=0.5, y=0.583, text=SUPTITLE, text_align="center",
                    text_baseline="middle", text_font=SERIF, text_font_size="13px",
                    text_color="#111111"))

layout = column(tf, row(p1, p2), row(p3, p4))
open("out.html", "w").write(file_html(layout, INLINE))
